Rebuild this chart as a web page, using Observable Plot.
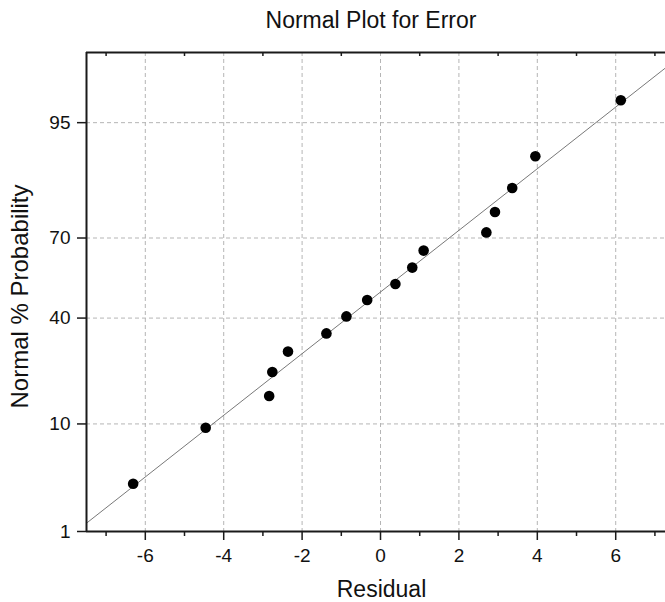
<!DOCTYPE html>
<html><head><meta charset="utf-8">
<script src="https://cdn.jsdelivr.net/npm/d3@7"></script>
<script src="https://cdn.jsdelivr.net/npm/@observablehq/plot@0.6"></script>
<style>
body{margin:0;background:#fff;font-family:"Liberation Sans",Arial,sans-serif;}
#title{width:665px;height:40px;box-sizing:border-box;padding-left:77px;padding-top:9px;text-align:center;font-size:23px;line-height:1;color:#111;}
</style></head><body>
<div id="title"></div>
<div id="chart"></div>
<script>
const title = "Normal Plot for Error";
const xLabel = "Residual";
const yLabel = "Normal % Probability";
const residuals = [-6.31,-4.46,-2.84,-2.76,-2.36,-1.38,-0.87,-0.34,0.38,0.81,1.10,2.70,2.92,3.36,3.95,6.13];
const probabilities = [3.125,9.375,15.625,21.875,28.125,34.375,40.625,46.875,53.125,59.375,65.625,71.875,78.125,84.375,90.625,96.875];
const xTicks = [-6,-4,-2,0,2,4,6];
const xMinorTicks = [-7,-5,-3,-1,1,3,5,7];
const yTicks = [1,10,40,70,95];
const yGrid = [10,40,70,95];
const xDomain = [-7.5, 7.27];
const yDomain = [1, 99];
const fitMean = 0;
const fitSD = 3.34;

function probit(p){
  const a=[-3.969683028665376e+01,2.209460984245205e+02,-2.759285104469687e+02,1.383577518672690e+02,-3.066479806614716e+01,2.506628277459239e+00];
  const b=[-5.447609879822406e+01,1.615858368580409e+02,-1.556989798598866e+02,6.680131188771972e+01,-1.328068155288572e+01];
  const c=[-7.784894002430293e-03,-3.223964580411365e-01,-2.400758277161838e+00,-2.549732539343734e+00,4.374664141464968e+00,2.938163982698783e+00];
  const d=[7.784695709041462e-03,3.224671290700398e-01,2.445134137142996e+00,3.754408661907416e+00];
  const pl=0.02425, ph=1-pl; let q,r;
  if(p<pl){q=Math.sqrt(-2*Math.log(p));return (((((c[0]*q+c[1])*q+c[2])*q+c[3])*q+c[4])*q+c[5])/((((d[0]*q+d[1])*q+d[2])*q+d[3])*q+1);}
  if(p<=ph){q=p-0.5;r=q*q;return (((((a[0]*r+a[1])*r+a[2])*r+a[3])*r+a[4])*r+a[5])*q/(((((b[0]*r+b[1])*r+b[2])*r+b[3])*r+b[4])*r+1);}
  q=Math.sqrt(-2*Math.log(1-p));return -(((((c[0]*q+c[1])*q+c[2])*q+c[3])*q+c[4])*q+c[5])/((((d[0]*q+d[1])*q+d[2])*q+d[3])*q+1);
}

document.getElementById("title").textContent = title;

const points = residuals.map((x,i)=>({x, z: probit(probabilities[i]/100)}));
const zDomain = yDomain.map(p=>probit(p/100));
const yTickZ = yTicks.map(p=>probit(p/100));
const yGridZ = yGrid.map(p=>probit(p/100));
const zLabel = new Map(yTicks.map((p,i)=>[yTickZ[i], String(p)]));
const fitLine = [xDomain[0]-0.5, xDomain[1]+0.5].map(x=>({x, z:(x-fitMean)/fitSD}));

const ink = "#1a1a1a";
const gridStyle = {stroke:"#b5b5b5", strokeOpacity:1, strokeWidth:1, strokeDasharray:"4,3"};

const chart = Plot.plot({
  width: 665,
  height: 562,
  marginTop: 12,
  marginBottom: 71,
  marginLeft: 86,
  marginRight: 0,
  style: {fontFamily:'"Liberation Sans", Arial, sans-serif', color:"#111", background:"#fff", overflow:"visible"},
  x: {domain: xDomain},
  y: {domain: zDomain},
  marks: [
    Plot.gridX(xTicks, gridStyle),
    Plot.gridY(yGridZ, gridStyle),
    Plot.line(fitLine, {x:"x", y:"z", stroke:"#555", strokeWidth:0.8, clip:true}),
    Plot.dot(points, {x:"x", y:"z", r:5.3, fill:"#000", stroke:null}),
    Plot.ruleX([xDomain[0]], {stroke:ink, strokeWidth:2}),
    Plot.ruleY([zDomain[0]], {stroke:ink, strokeWidth:2}),
    Plot.ruleY([zDomain[1]], {stroke:ink, strokeWidth:2}),
    Plot.axisY(yTickZ, {tickSize:9, tickPadding:7, tickFormat: z=>zLabel.get(z), fontSize:19, label:null, stroke:ink, strokeWidth:1.5, fill:"#111"}),
    Plot.axisX(xTicks, {tickSize:9, tickPadding:8, tickFormat: d=>String(d), fontSize:19, label:null, stroke:ink, strokeWidth:1.5, fill:"#111"}),
    Plot.axisX(xMinorTicks, {tickSize:5, tickFormat:()=>"", label:null, stroke:ink, strokeWidth:1.5}),
    Plot.axisX(xMinorTicks, {anchor:"bottom", frameAnchor:"top", tickSize:4, tickFormat:()=>"", label:null, stroke:ink, strokeWidth:1.5}),
    Plot.text([yLabel], {text:d=>d, frameAnchor:"left", textAnchor:"middle", lineAnchor:"middle", dx:-66, dy:4.5, rotate:-90, fontSize:24, fill:"#111"}),
    Plot.text([xLabel], {text:d=>d, frameAnchor:"bottom", textAnchor:"middle", lineAnchor:"middle", dx:5.5, dy:58, fontSize:23, fill:"#111"})
  ]
});
document.getElementById("chart").appendChild(chart);
</script>
</body></html>
